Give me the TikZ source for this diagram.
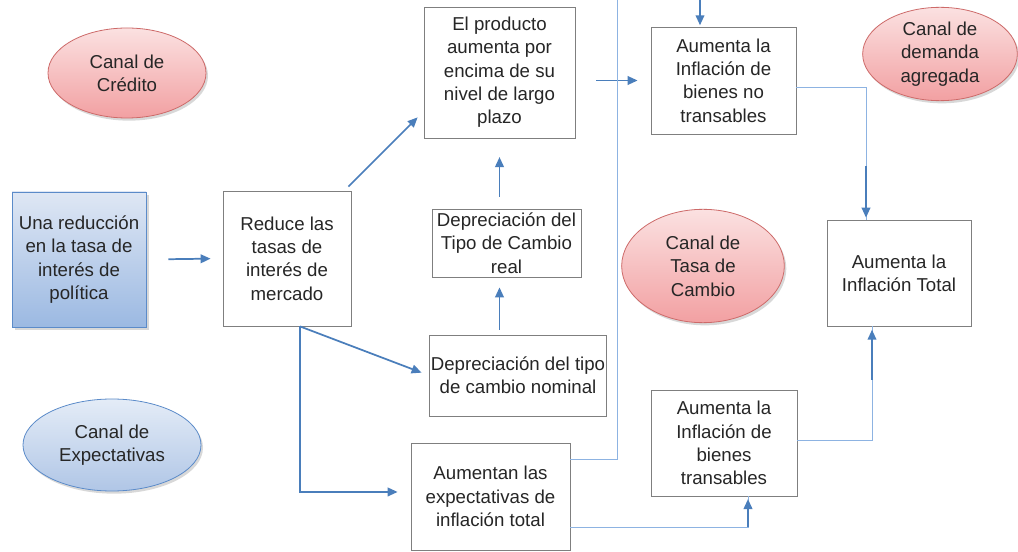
\documentclass[tikz,border=0pt]{standalone}
\usepackage{fontspec}
\setmainfont{Liberation Sans}
\usepackage{tikz}
\usetikzlibrary{shapes.geometric,arrows.meta,positioning,shadows}
\definecolor{borde}{HTML}{7F7F7F}
\definecolor{texto}{HTML}{262626}
\definecolor{flecha}{HTML}{4A7EBB}
\definecolor{linea}{HTML}{8DB3E2}
\definecolor{rojoA}{HTML}{FBE1E1}
\definecolor{rojoB}{HTML}{F2A0A2}
\definecolor{rojoborde}{HTML}{CD6A69}
\definecolor{azulA}{HTML}{E4ECF7}
\definecolor{azulB}{HTML}{B0C6E6}
\definecolor{azulborde}{HTML}{5B8BC9}
\definecolor{cajaA}{HTML}{DFE7F4}
\definecolor{cajaB}{HTML}{9BB9E2}

\begin{document}
\begin{tikzpicture}[
  x=0.75pt,y=-0.75pt,
  caja/.style={draw=borde,line width=0.6pt,fill=white,align=center,inner xsep=1pt,inner ysep=0pt,text=texto,font=\fontsize{14}{17.5}\selectfont},
  canal/.style={ellipse,draw=rojoborde,line width=0.6pt,top color=rojoA,bottom color=rojoB,align=center,inner sep=0pt,text=texto,font=\fontsize{14}{17.5}\selectfont,drop shadow={opacity=0.3,shadow xshift=1.5pt,shadow yshift=-2pt}},
  canalazul/.style={canal,draw=azulborde,top color=azulA,bottom color=azulB},
  arr/.style={-{Triangle[length=7.5pt,width=6.5pt]},line width=1.3pt,draw=flecha},
  fina/.style={line width=0.7pt,draw=linea}
]
\path[use as bounding box,fill=white] (0,0) rectangle (1018,552);

\node[caja,draw=azulborde,top color=cajaA,bottom color=cajaB,drop shadow={opacity=0.3,shadow xshift=2pt,shadow yshift=-2pt},minimum width=100.5pt,minimum height=101.25pt] (s1) at (79,259.5) {Una reducción\\en la tasa de\\interés de\\política};
\node[caja,minimum width=96pt,minimum height=101.25pt] (s2) at (287,258.5) {Reduce las\\tasas de\\interés de\\mercado};
\node[caja,minimum width=113.25pt,minimum height=98.25pt] (s3) at (499.5,72.5) {El producto\\aumenta por\\encima de su\\nivel de largo\\plazo};
\node[caja,minimum width=111.75pt,minimum height=51pt] (s4) at (506.5,243) {Depreciación del\\Tipo de Cambio\\real};
\node[caja,minimum width=132pt,minimum height=60.75pt] (s5) at (518,375.5) {Depreciación del tipo\\de cambio nominal};
\node[caja,minimum width=119.25pt,minimum height=80.25pt] (s6) at (490.5,496.5) {Aumentan las\\expectativas de\\inflación total};
\node[caja,minimum width=108.75pt,minimum height=80.25pt] (s7) at (723.5,80.5) {Aumenta la\\Inflación de\\bienes no\\transables};
\node[caja,minimum width=109.5pt,minimum height=79.5pt] (s8) at (724,443) {Aumenta la\\Inflación de\\bienes\\transables};
\node[caja,minimum width=108pt,minimum height=79.5pt] (s9) at (899,273) {Aumenta la\\Inflación Total};

\node[canal,minimum width=118.5pt,minimum height=67.5pt] (c1) at (127,73) {Canal de\\Crédito};
\node[canal,minimum width=116pt,minimum height=70pt] (c2) at (940,54) {Canal de\\demanda\\agregada};
\node[canal,minimum width=122pt,minimum height=85pt] (c3) at (703,266) {Canal de\\Tasa de\\Cambio};
\node[canalazul,minimum width=133.5pt,minimum height=69pt] (c4) at (112,445) {Canal de\\Expectativas};

\coordinate (t1) at (617,-20);
\coordinate (t2) at (700,-20);

\draw[arr,shorten <=16.5pt,shorten >=9pt] (s1.east) -- (s2.west);
\draw[arr] ([xshift=-2.25pt,yshift=3pt]s2.north east) -- ([xshift=-4.5pt,yshift=15.75pt]s3.south west);
\draw[arr,shorten <=9pt,shorten >=14pt] (s4.north -| s3.south) -- (s3.south);
\draw[arr,shorten <=3.75pt,shorten >=7.5pt] (s5.north -| s3.south) -- (s4.south -| s3.south);
\draw[arr,shorten >=6pt] ([xshift=9.75pt]s2.south) -- (s5.west);
\draw[arr,shorten >=9.75pt] ([xshift=9.75pt]s2.south) |- ([yshift=3.4pt]s6.west);
\draw[arr,shorten <=15.75pt,shorten >=9.75pt] (s3.east |- s7.west) -- (s7.west);
\draw[fina] ([yshift=-12.75pt]s6.north east) -| (t1) -- (t2);
\draw[arr,shorten >=1pt] (t2) -- (s7.north -| t2);
\draw[fina] ([yshift=-23pt]s6.east) -| ([xshift=18pt]s8.south);
\draw[arr,shorten >=2pt] ([xshift=18pt,yshift=-23pt]s8.south) -- ([xshift=18pt]s8.south);
\draw[fina] ([yshift=-5.6pt]s7.east) -| ([xshift=-24.75pt]s9.north);
\draw[arr,shorten >=1.5pt] ([xshift=-24.75pt,yshift=40pt]s9.north) -- ([xshift=-24.75pt]s9.north);
\draw[fina] ([yshift=2.25pt]s8.east) -| ([xshift=-20.25pt]s9.south);
\draw[arr,shorten >=2.5pt] ([xshift=-20.25pt,yshift=-40pt]s9.south) -- ([xshift=-20.25pt]s9.south);
\end{tikzpicture}
\end{document}
